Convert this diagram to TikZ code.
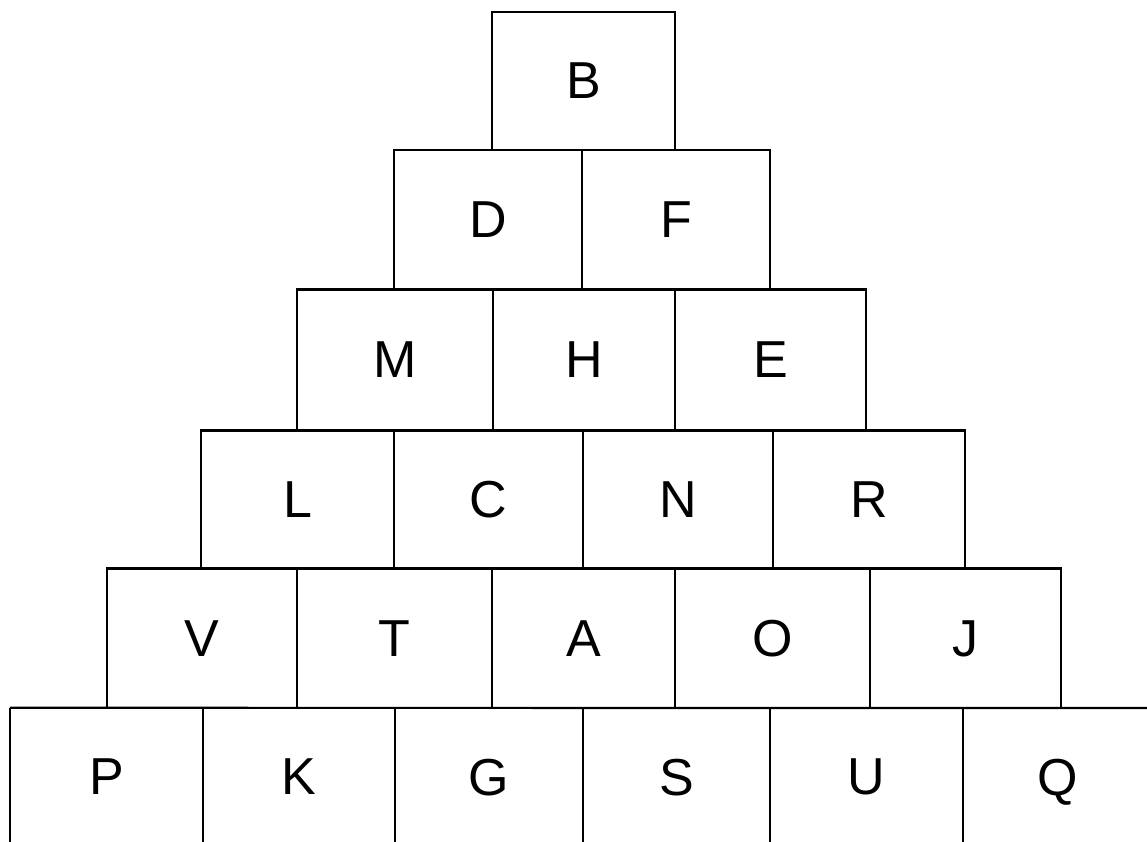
\documentclass[tikz,border=0pt]{standalone}
\usepackage{fontspec}
\setmainfont{Liberation Sans}
\begin{document}
\begin{tikzpicture}[x=1pt,y=-1pt,
  cell/.style={draw, line width=2.2pt, inner sep=0pt, text depth=0pt, font=\fontsize{52}{60}\selectfont},
  opencell/.style={inner sep=0pt, text depth=0pt, font=\fontsize{52}{60}\selectfont},
  edge/.style={line width=2.2pt}]
\useasboundingbox (0,0) rectangle (1147,842);
% row 1
\node[cell, minimum width=183pt, minimum height=138pt] (B) at (583.5,81) {B};
% row 2
\node[cell, minimum width=188pt, minimum height=139.5pt] (D) at (488,219.75) {D};
\node[cell, minimum width=188pt, minimum height=139.5pt] (F) at (676,219.75) {F};
% row 3
\node[cell, minimum width=196pt, minimum height=141pt] (M) at (395,360) {M};
\node[cell, minimum width=182pt, minimum height=141pt] (H) at (584,360) {H};
\node[cell, minimum width=191pt, minimum height=141pt] (E) at (770.5,360) {E};
% row 4
\node[cell, minimum width=193pt, minimum height=138pt] (L) at (297.5,499.5) {L};
\node[cell, minimum width=189pt, minimum height=138pt] (C) at (488.5,499.5) {C};
\node[cell, minimum width=190pt, minimum height=138pt] (N) at (678,499.5) {N};
\node[cell, minimum width=192pt, minimum height=138pt] (R) at (869,499.5) {R};
% row 5
\node[cell, minimum width=190pt, minimum height=139.5pt] (V) at (202,638.25) {V};
\node[cell, minimum width=195pt, minimum height=139.5pt] (T) at (394.5,638.25) {T};
\node[cell, minimum width=183pt, minimum height=139.5pt] (A) at (583.5,638.25) {A};
\node[cell, minimum width=195pt, minimum height=139.5pt] (O) at (772.5,638.25) {O};
\node[cell, minimum width=191pt, minimum height=139.5pt] (J) at (965.5,638.25) {J};
% row 6 (open at the bottom and right)
\node[opencell, minimum width=193pt, minimum height=138pt] (P) at (106.5,777) {P};
\node[opencell, minimum width=192pt, minimum height=138pt] (K) at (299,777) {K};
\node[opencell, minimum width=188pt, minimum height=138pt] (G) at (489,777) {G};
\node[opencell, minimum width=187pt, minimum height=138pt] (S) at (676.5,777) {S};
\node[opencell, minimum width=193pt, minimum height=138pt] (U) at (866.5,777) {U};
\node[opencell, minimum width=190pt, minimum height=138pt] (Q) at (1058,777) {Q};
\coordinate (rowend) at (1147,708);
\draw[edge] (P.north west) -- (rowend);
\foreach \n in {P,K,G,S,U,Q}
  \draw[edge] (\n.north west) -- (\n.south west);
\end{tikzpicture}
\end{document}
